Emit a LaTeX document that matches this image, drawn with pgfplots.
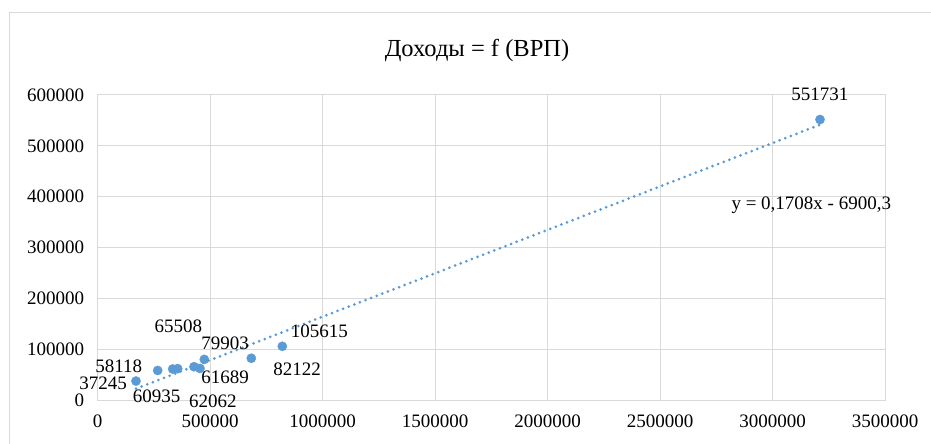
\documentclass[border=0pt]{standalone}
\usepackage{pgfplots}
\pgfplotsset{compat=1.18}
\usepackage{fontspec}
\setmainfont{Liberation Serif}
\definecolor{xlblue}{RGB}{91,155,213}
\definecolor{gridgray}{RGB}{217,217,217}
\begin{document}
\begin{tikzpicture}[x=1pt,y=1pt]
\useasboundingbox (0,0) rectangle (931,444);
\draw[gridgray, line width=1pt] (9,-5) rectangle (940,431);
\node[font=\fontsize{24.5}{26}\selectfont] at (477,394) {Доходы = f (ВРП)};
\begin{axis}[
  at={(97.7pt,44pt)}, anchor=south west,
  scale only axis, width=787.3pt, height=305pt,
  xmin=0, xmax=3500000, ymin=0, ymax=600000,
  xtick={0,500000,...,3500000}, ytick={0,100000,...,600000},
  scaled ticks=false,
  /pgf/number format/assume math mode=true,
  xticklabel={\pgfmathprintnumber[fixed,precision=0,1000 sep={}]{\tick}},
  yticklabel={\pgfmathprintnumber[fixed,precision=0,1000 sep={}]{\tick}},
  tick label style={font=\fontsize{19}{21}\selectfont},
  xticklabel style={yshift=-11.5pt},
  yticklabel style={xshift=-10pt},
  grid=major, major grid style={gridgray, line width=1pt},
  axis line style={gridgray, line width=1pt},
  tick style={draw=none},
  clip=false,
]
\addplot[xlblue, line width=3pt, line cap=round, dash pattern=on 0pt off 6pt] coordinates {(170300,22187) (3211100,541555)};
\addplot[only marks, mark=*, mark size=4.6pt, color=xlblue] coordinates {
(170300,37245) (266700,58118) (333400,60935) (355600,61689) (428100,65508)
(454800,62062) (473900,79903) (682900,82122) (820700,105615) (3211100,551731)};
\begin{scope}[every node/.style={font=\fontsize{19}{21}\selectfont, inner sep=0pt}]
\node at (axis cs:23600,33400) {37245};
\node at (axis cs:93800,65500) {58118};
\node at (axis cs:262000,6500) {60935};
\node at (axis cs:358300,144200) {65508};
\node at (axis cs:566800,112100) {79903};
\node at (axis cs:566800,43900) {61689};
\node at (axis cs:512000,-3000) {62062};
\node at (axis cs:886000,60400) {82122};
\node at (axis cs:986000,134400) {105615};
\node at (axis cs:3211000,602000) {551731};
\node at (axis cs:3172400,383600) {y = 0,1708x - 6900,3};
\end{scope}
\end{axis}
\end{tikzpicture}
\end{document}
